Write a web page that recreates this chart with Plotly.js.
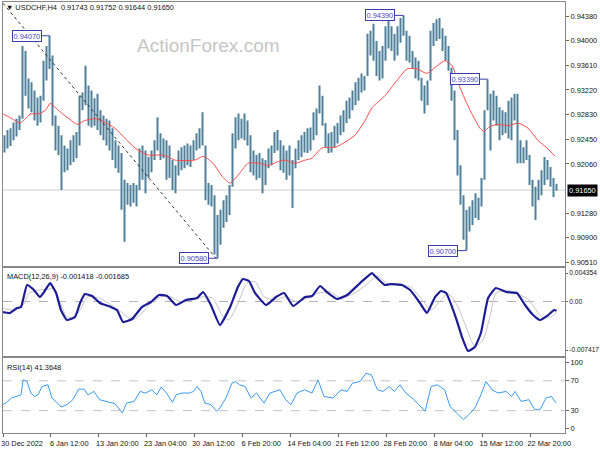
<!DOCTYPE html>
<html><head><meta charset="utf-8">
<script src="https://cdn.plot.ly/plotly-3.0.1.min.js"></script>
<style>html,body{margin:0;padding:0;background:#fff}#chart{width:600px;height:450px}</style>
</head><body><div id="chart"></div>
<script>
// ---- price bars (each drawn bar = 2 H4 bars) ----
const highs=[0.9251,0.9259,0.9262,0.9271,0.9277,0.9282,0.9391,0.9383,0.9340,0.9334,
0.9321,0.9310,0.9313,0.9368,0.9391,0.9407,0.9376,0.9282,0.9266,0.9251,
0.9235,0.9230,0.9243,0.9251,0.9256,0.9313,0.9318,0.9360,0.9329,0.9321,
0.9309,0.9316,0.9290,0.9282,0.9277,0.9274,0.9262,0.9243,0.9235,0.9223,
0.9181,0.9176,0.9173,0.9176,0.9173,0.9230,0.9235,0.9227,0.9217,0.9227,
0.9243,0.9279,0.9254,0.9246,0.9243,0.9235,0.9212,0.9204,0.9227,0.9232,
0.9235,0.9238,0.9235,0.9243,0.9254,0.9262,0.9287,0.9235,0.9176,0.9173,
0.9157,0.9126,0.9134,0.9149,0.9157,0.9173,0.9254,0.9279,0.9285,0.9277,
0.9285,0.9274,0.9251,0.9227,0.9220,0.9223,0.9215,0.9212,0.9230,0.9235,
0.9256,0.9259,0.9243,0.9235,0.9227,0.9235,0.9212,0.9230,0.9243,0.9251,
0.9256,0.9262,0.9263,0.9287,0.9293,0.9329,0.9313,0.9270,0.9254,0.9256,
0.9266,0.9270,0.9282,0.9290,0.9305,0.9310,0.9321,0.9334,0.9341,0.9348,
0.9344,0.9410,0.9415,0.9426,0.9399,0.9383,0.9391,0.9422,0.9430,0.9422,
0.9410,0.9422,0.9435,0.9439,0.9415,0.9407,0.9383,0.9373,0.9368,0.9341,
0.9329,0.9337,0.9415,0.9427,0.9433,0.9435,0.9419,0.9407,0.9391,0.9357,
0.9321,0.9259,0.9204,0.9157,0.9134,0.9139,0.9149,0.9160,0.9153,0.9184,
0.9290,0.9339,0.9316,0.9321,0.9313,0.9295,0.9290,0.9287,0.9305,0.9310,
0.9316,0.9316,0.9243,0.9232,0.9243,0.9220,0.9181,0.9170,0.9181,0.9196,
0.9217,0.9212,0.9201,0.9184,0.9175];
const lows=[0.9224,0.9230,0.9234,0.9243,0.9249,0.9259,0.9277,0.9313,0.9293,0.9287,
0.9274,0.9266,0.9271,0.9305,0.9337,0.9355,0.9266,0.9227,0.9220,0.9165,
0.9193,0.9196,0.9204,0.9209,0.9215,0.9235,0.9290,0.9298,0.9266,0.9263,
0.9266,0.9259,0.9251,0.9243,0.9235,0.9227,0.9212,0.9199,0.9192,0.9134,
0.9084,0.9142,0.9139,0.9145,0.9139,0.9165,0.9181,0.9160,0.9184,0.9193,
0.9212,0.9227,0.9212,0.9215,0.9181,0.9184,0.9165,0.9160,0.9188,0.9196,
0.9199,0.9204,0.9201,0.9212,0.9227,0.9230,0.9235,0.9149,0.9142,0.9139,
0.9064,0.9058,0.9079,0.9106,0.9115,0.9126,0.9170,0.9230,0.9243,0.9246,
0.9243,0.9235,0.9193,0.9188,0.9181,0.9184,0.9160,0.9173,0.9199,0.9204,
0.9223,0.9227,0.9196,0.9192,0.9181,0.9188,0.9137,0.9199,0.9212,0.9217,
0.9224,0.9223,0.9227,0.9243,0.9251,0.9285,0.9266,0.9232,0.9223,0.9224,
0.9232,0.9238,0.9251,0.9256,0.9270,0.9277,0.9290,0.9298,0.9305,0.9318,
0.9321,0.9344,0.9376,0.9368,0.9344,0.9337,0.9340,0.9368,0.9387,0.9383,
0.9368,0.9376,0.9396,0.9407,0.9368,0.9365,0.9355,0.9340,0.9337,0.9305,
0.9285,0.9298,0.9337,0.9391,0.9399,0.9402,0.9383,0.9368,0.9352,0.9305,
0.9243,0.9188,0.9142,0.9087,0.9070,0.9100,0.9110,0.9121,0.9118,0.9139,
0.9181,0.9290,0.9227,0.9274,0.9266,0.9243,0.9251,0.9254,0.9246,0.9243,
0.9274,0.9207,0.9207,0.9207,0.9212,0.9173,0.9139,0.9118,0.9149,0.9157,
0.9173,0.9181,0.9170,0.9154,0.9164];
const barIndex=highs.map((_,i)=>i);

// ---- moving average (red) ----
const maX=[-0.8,1.8,5.2,6.8,8.5,11.8,13.8,15.2,16.8,19.2,21.8,24.2,26.8,30.2,33.5,36.8,40.2,43.5,47.8,52.5,54.5,56.8,63.5,66.2,69.5,72.8,75.2,78.5,81.2,85.2,87.8,90.8,93.5,96.8,100.2,102.5,105.8,110.2,113.5,116.8,120.2,122.5,126.8,129.5,134.2,137.5,140.8,144.2,146.8,149.2,151.8,155.2,158.5,159.8,161.8,164.5,167.8,171.2,174.5,177.8,180.8,183.5];
const maY=[0.9285,0.9279,0.9270,0.9276,0.9284,0.9285,0.9291,0.9301,0.9295,0.9285,0.9276,0.9268,0.9274,0.9277,0.9271,0.9262,0.9246,0.9231,0.9220,0.9220,0.9217,0.9212,0.9212,0.9218,0.9207,0.9185,0.9176,0.9192,0.9207,0.9207,0.9203,0.9209,0.9212,0.9207,0.9212,0.9215,0.9231,0.9232,0.9240,0.9251,0.9274,0.9294,0.9313,0.9329,0.9355,0.9355,0.9348,0.9360,0.9368,0.9360,0.9326,0.9290,0.9262,0.9257,0.9265,0.9268,0.9266,0.9270,0.9262,0.9243,0.9231,0.9218];

// ---- MACD ----
const macdX=[-0.8,1.8,4.2,5.5,7.5,9.5,11.8,13.2,15.2,17.2,18.8,20.8,23.5,25.2,26.8,29.2,31.8,35.5,37.5,39.5,42.5,45.8,48.8,51.5,54.2,57.2,60.5,64.2,66.2,68.8,71.8,75.2,77.8,79.5,81.5,83.5,87.2,90.5,93.2,96.2,100.2,102.5,105.2,107.8,110.8,114.2,118.5,122.5,123.5,126.8,128.8,132.5,135.2,138.5,140.8,143.5,145.5,147.2,150.5,152.5,154.5,156.8,158.8,161.2,163.8,167.2,170.8,173.5,176.2,178.5,181.2,183.2,184];
const macdY=[-0.00161,-0.00176,-0.00100,-0.00085,0.00252,0.00191,0.00068,0.00145,0.00282,0.00130,-0.00130,-0.00283,-0.00237,-0.00023,0.00114,0.00084,-0.00023,-0.00085,-0.00130,-0.00314,-0.00268,-0.00085,-0.00008,0.00099,0.00084,-0.00054,0.00023,0.00053,0.00145,-0.00054,-0.00360,-0.00085,0.00221,0.00344,0.00313,0.00130,-0.00054,0.00068,0.00130,-0.00069,0.00068,0.00084,0.00237,0.00130,0.00038,0.00099,0.00282,0.00435,0.00390,0.00252,0.00267,0.00252,0.00175,-0.00023,-0.00176,0.00068,0.00160,0.00130,-0.00253,-0.00543,-0.00757,-0.00696,-0.00482,0.00053,0.00206,0.00145,0.00130,-0.00054,-0.00207,-0.00283,-0.00207,-0.00130,-0.001418];
const sigX=[-0.8,3.5,6.2,8.2,11.2,14.5,16.5,18.2,20.8,22.8,24.8,27.8,31.8,35.5,39.5,42.5,45.2,48.2,52.2,55.2,58.5,62.5,66.2,69.5,72.5,74.8,77.8,80.8,83.5,86.5,90.5,93.5,97.5,100.8,104.5,108.5,112.2,116.5,120.5,124.2,127.5,131.2,135.2,138.8,142.2,145.5,147.8,151.2,153.8,156.8,159.5,161.8,163.8,167.2,170.8,174.8,177.2,179.8,182.5,184];
const sigY=[-0.00105,-0.00130,-0.00054,0.00125,0.00175,0.00186,0.00201,0.00023,-0.00233,-0.00243,-0.00157,0.00073,0.00048,-0.00054,-0.00181,-0.00283,-0.00207,-0.00054,0.00073,0.00073,-0.00004,0.00023,0.00073,0.00048,-0.00207,-0.00283,-0.00028,0.00278,0.00303,0.00073,0.00023,0.00073,-0.00004,0.00048,0.00125,0.00150,0.00048,0.00125,0.00252,0.00390,0.00278,0.00252,0.00226,0.00048,-0.00130,0.00023,0.00125,-0.00080,-0.00386,-0.00691,-0.00589,-0.00233,0.00125,0.00175,0.00125,0.00023,-0.00130,-0.00258,-0.00223,-0.001685];

// ---- RSI(14) ----
const rsiX=[-0.8,0.5,2.3,4.2,5.5,6.2,7.5,8.8,10,11.2,12.5,14.5,15.8,17.7,18.8,20.8,22.8,24.7,26.5,27.8,29.8,31.7,34.2,36.8,39.3,40.7,43.2,45.2,47,49,50.8,52.2,54,56,57.2,59.2,61.7,63,64.2,65.5,66.8,68.8,70.7,71.8,73.8,75.8,77,78.3,80.2,82.2,84,86.5,88.5,91.8,93.7,95.5,97.5,100,102.5,104.5,106.5,109.5,112.2,114.2,116,118.5,120.5,122.3,124.3,126.2,128.2,130,131.8,133.8,136.5,139,140.2,142.2,144.2,146.7,148.5,151.2,153,154.8,156.8,158.8,160.5,162.5,164.5,167.2,169,170.2,172.2,174.8,176.7,178.5,180.5,182.3,183.7,184];
const rsiY=[38,40.2,46.9,49.1,51.3,71.3,69.1,53.6,49.1,51.3,62.4,64.7,46.9,40.2,34.9,38,44.7,58.9,58.9,51.3,55.8,44.7,42.4,39.3,26.9,40.2,42.4,55.8,53.6,58,51.3,61.6,53.6,41.1,51.3,53.6,53.6,55.8,62.4,55.8,40.2,38,29.1,33.6,46.9,66.9,69.1,64.7,62.4,46.9,53.6,40.2,53.6,58,44.7,38,53.6,58,53.6,71.3,49.1,46.9,58,55.8,66.9,69.1,80.2,78,58,55.8,62.4,55.8,64.7,53.6,44.7,33.6,29.1,62.4,64.7,58,35.8,24.7,18,24.7,33.6,51.3,69.1,58,53.6,55.8,49.1,55.8,42.4,44.7,31.3,31.3,46.9,49.1,41.1,41.3648];

// ---- trend line, labels, ticks ----
const trendX=[-0.5,70.5];
const trendY=[0.9458,0.9058];
const markedBars=[15,133,161,71,154];
const markedKind=['high','high','high','low','low'];
const lastBar={open:0.91743,high:0.91752,low:0.91644,close:0.91650};
const symbol='USDCHF,H4';
const priceTicks=[0.9438,0.9400,0.9361,0.9322,0.9283,0.9245,0.9206,0.9128,0.9090,0.9051];
const macdTicks=[0.004354,0,-0.007417];
const macdTickText=['0.004354','0.00','-0.007417'];
const rsiLevels=[70,30];
const timeTickVals=[-0.5,15.25,31.25,47.25,63.25,79.25,95.25,111.25,127.25,143.25,159.25,175.25];
const timeTickText=['30 Dec 2022','6 Jan 12:00','13 Jan 20:00','23 Jan 04:00','30 Jan 12:00','6 Feb 20:00','14 Feb 04:00','21 Feb 12:00','28 Feb 20:00','8 Mar 04:00','15 Mar 12:00','22 Mar 20:00'];

const FONT='"Liberation Sans", Arial, sans-serif';
const FS=7.4;
const LBL='#3c3cb0';

// vertical high-low segments built from the arrays above
const segX=[], segY=[];
barIndex.forEach(i=>{segX.push(i,i,null);segY.push(lows[i],highs[i],null);});

const traces=[
 {type:'scatter',mode:'lines',x:segX,y:segY,line:{color:'#4e809b',width:2},connectgaps:false,xaxis:'x',yaxis:'y',hoverinfo:'skip'},
 {type:'scatter',mode:'lines',x:maX,y:maY,line:{color:'#ff4b4b',width:1,shape:'spline',smoothing:0.6},xaxis:'x',yaxis:'y'},
 {type:'scatter',mode:'lines',x:trendX,y:trendY,line:{color:'#333',width:1,dash:'dot'},xaxis:'x',yaxis:'y'},
 {type:'scatter',mode:'lines',x:sigX,y:sigY,line:{color:'#c4c4c4',width:1,shape:'spline',smoothing:0.6},xaxis:'x2',yaxis:'y2'},
 {type:'scatter',mode:'lines',x:macdX,y:macdY,line:{color:'#1c1c96',width:2.2,shape:'spline',smoothing:0.4},xaxis:'x2',yaxis:'y2'},
 {type:'scatter',mode:'lines',x:rsiX,y:rsiY,line:{color:'#3a9af2',width:1},xaxis:'x3',yaxis:'y3'}
];

const base={showline:true,linecolor:'#888',linewidth:1,mirror:true,showgrid:false,zeroline:false,fixedrange:true};
const yAx=(o,fs)=>Object.assign({},base,{side:'right',ticks:'outside',ticklen:3,tickcolor:'#666',tickfont:{family:FONT,size:fs||FS,color:'#111'}},o);

const fmt5=v=>v.toFixed(5);
const annotations=[
 {xref:'paper',yref:'paper',x:0.001,y:0.987,xanchor:'left',yanchor:'middle',showarrow:false,
  text:'▼ '+symbol+'  '+[lastBar.open,lastBar.high,lastBar.low,lastBar.close].map(fmt5).join(' '),font:{family:FONT,size:FS,color:'#111'}},
 {xref:'paper',yref:'paper',x:0.365,y:0.900,xanchor:'center',yanchor:'middle',showarrow:false,
  text:'ActionForex.com',font:{family:FONT,size:19,color:'#c6c6c6'}},
 {xref:'paper',yref:'paper',x:0.003,y:0.364,xanchor:'left',yanchor:'middle',showarrow:false,
  text:'MACD(12,26,9) '+macdY[macdY.length-1].toFixed(6)+' '+sigY[sigY.length-1].toFixed(6),font:{family:FONT,size:FS,color:'#111'}},
 {xref:'paper',yref:'paper',x:0.003,y:0.153,xanchor:'left',yanchor:'middle',showarrow:false,
  text:'RSI(14) '+rsiY[rsiY.length-1].toFixed(4),font:{family:FONT,size:FS,color:'#111'}},
 {xref:'paper',yref:'y',x:1,y:lastBar.close,xanchor:'left',yanchor:'middle',xshift:2,showarrow:false,
  text:fmt5(lastBar.close),bgcolor:'#000',borderpad:1,font:{family:FONT,size:FS,color:'#fff'}}
];
const axOff=[-23,-24,-23,-24,-24];
markedBars.forEach((b,k)=>{
 const p=markedKind[k]==='high'?highs[b]:lows[b];
 annotations.push({xref:'x',yref:'y',x:b,y:p,text:fmt5(p),showarrow:true,arrowhead:0,arrowwidth:1,
  arrowcolor:LBL,ax:axOff[k],ay:0,standoff:0,bordercolor:LBL,borderwidth:1,borderpad:0.5,bgcolor:'#fff',
  font:{family:FONT,size:FS,color:'#4646c0'}});
});

const layout={
 width:600,height:450,margin:{l:3,r:35,t:2,b:17},paper_bgcolor:'#fff',plot_bgcolor:'#fff',
 showlegend:false,hovermode:false,font:{family:FONT,size:FS,color:'#111'},
 xaxis:Object.assign({},base,{domain:[0,1],range:[-0.5,186.83],anchor:'y',showticklabels:false,ticks:''}),
 yaxis:yAx({domain:[0.3886,1],range:[0.90466,0.94600],anchor:'x',tickvals:priceTicks,ticktext:priceTicks.map(fmt5)}),
 xaxis2:Object.assign({},base,{domain:[0,1],range:[-0.5,186.83],anchor:'y2',showticklabels:false,ticks:''}),
 yaxis2:yAx({domain:[0.1798,0.3828],range:[-0.008258,0.005119],anchor:'x2',tickvals:macdTicks,ticktext:macdTickText,ticklen:2},6.6),
 xaxis3:Object.assign({},base,{domain:[0,1],range:[-0.5,186.83],anchor:'y3',tickvals:timeTickVals,ticktext:timeTickText,
  ticks:'outside',ticklen:3,tickcolor:'#666',ticklabelshift:19,tickfont:{family:FONT,size:FS,color:'#111'}}),
 yaxis3:yAx({domain:[0,0.1729],range:[0,100],anchor:'x3',tickvals:[94.4,70,30,5.6],ticktext:['100','70','30','0']}),
 shapes:[
  {type:'line',xref:'x domain',yref:'y',x0:0,x1:1,y0:lastBar.close,y1:lastBar.close,line:{color:'#cfcfcf',width:1},layer:'below'},
  {type:'line',xref:'x2 domain',yref:'y2',x0:0,x1:1,y0:0,y1:0,line:{color:'#b4b4b4',width:1,dash:'dash'},layer:'below'},
  ...rsiLevels.map(v=>({type:'line',xref:'x3 domain',yref:'y3',x0:0,x1:1,y0:v,y1:v,line:{color:'#c4c4c4',width:1,dash:'dash'},layer:'below'}))
 ],
 annotations:annotations
};
Plotly.newPlot('chart',traces,layout,{staticPlot:true,displayModeBar:false});
</script></body></html>
